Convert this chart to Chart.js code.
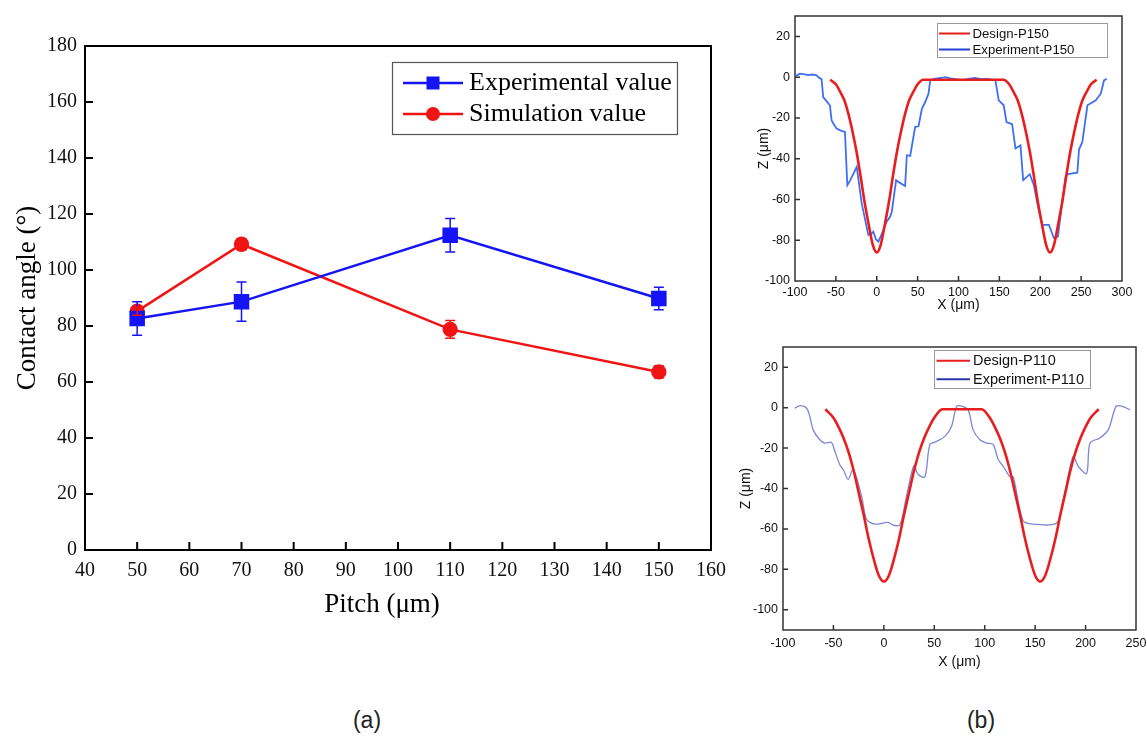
<!DOCTYPE html>
<html><head><meta charset="utf-8">
<script src="https://cdn.jsdelivr.net/npm/chart.js@4.4.1/dist/chart.umd.min.js"></script>
<style>
html,body{margin:0;padding:0;background:#fff;width:1147px;height:736px;overflow:hidden;position:relative;}
canvas{position:absolute;}
.cap{position:absolute;font-family:"Liberation Sans",Arial,sans-serif;font-size:23px;color:#222;transform:translate(-50%,-50%);}
</style></head><body>
<canvas id="ca" width="740" height="640" style="left:0;top:0"></canvas>
<canvas id="cb1" width="407" height="320" style="left:740px;top:0"></canvas>
<canvas id="cb2" width="417" height="350" style="left:730px;top:330px"></canvas>
<div class="cap" style="left:367px;top:720px">(a)</div>
<div class="cap" style="left:981px;top:720px">(b)</div>
<script>
// ---------- (a) contact angle vs pitch ----------
const pitch = [50, 70, 110, 150];
const expValue = [82.7, 88.7, 112.4, 89.8];
const expErr = [6, 7, 6, 4];
const simValue = [85.3, 109.2, 78.8, 63.6];
const simErr = [1.5, 2.0, 3.2, 2.2];
const aXRange = [40, 160];
const aYRange = [0, 180];
const aXTicks = [40, 50, 60, 70, 80, 90, 100, 110, 120, 130, 140, 150, 160];
const aYTicks = [0, 20, 40, 60, 80, 100, 120, 140, 160, 180];

// ---------- (b) top: P150 profiles ----------
const p150DesignX = [-57,-50,-45,-40,-35,-30,-25,-20,-15,-10,-5,0,5,10,15,20,25,30,35,40,45,50,57,100,155,162,167,172,177,182,187,192,197,202,207,212,217,222,227,232,237,242,247,252,257,262,269];
const p150DesignZ = [-1.3,-3.5,-7,-11,-17.5,-26,-36,-48,-61,-72,-82,-86,-82,-72,-61,-48,-36,-26,-17.5,-11,-7,-3.5,-1.3,-1.3,-1.3,-3.5,-7,-11,-17.5,-26,-36,-48,-61,-72,-82,-86,-82,-72,-61,-48,-36,-26,-17.5,-11,-7,-3.5,-1.3];
const p150ExpX = [-99,-94,-88,-84,-79,-74,-70,-67.5,-65.5,-60,-57.3,-55.2,-52,-49.1,-44,-38.9,-36,-33,-24.5,-18.4,-10.3,-7,-4.2,-1,2,5,8.1,12,16.3,18.4,23.7,27,34.7,36.8,40.9,47,51.1,55.2,59.3,63.3,65.4,70,80,84,90,100,105,112,120,128,136,145.2,149.2,155.3,158.7,165.6,169.7,175.8,179.1,187.2,192.2,197,202.4,210.6,216.7,221.6,226,231,233.9,245.4,247.4,251.5,257.7,267.9,274,278,281.4];
const p150ExpZ = [0.5,1.7,1.4,1.0,1.3,1.0,-0.5,-1,-9.8,-12.5,-13.8,-21.2,-23.5,-25.2,-26.2,-26.9,-53,-51,-44,-61.9,-77.4,-77,-75.8,-79.5,-80.7,-78,-75,-71,-68.5,-66,-50.5,-51.5,-53.4,-38.3,-38.6,-24.4,-24.1,-15.5,-12.2,-8.1,-1.6,-0.8,-0.3,0,-0.6,-1.2,-1.5,-0.8,-0.4,-1,-0.8,-1.6,-11.4,-13.8,-22,-23.1,-35,-33.4,-50.5,-47.6,-53,-63,-72.5,-72.5,-79,-78.2,-64,-48.9,-47.6,-46.9,-35.5,-31.8,-13.8,-11.4,-8.1,-1.6,-0.8];
const b1XRange = [-100, 300];
const b1YRange = [-100, 30];
const b1XTicks = [-100, -50, 0, 50, 100, 150, 200, 250, 300];
const b1YTicks = [-100, -80, -60, -40, -20, 0, 20];

// ---------- (b) bottom: P110 profiles ----------
const p110DesignX = [-58,-50,-45,-40,-35,-30,-25,-20,-15,-10,-5,0,5,10,15,20,25,30,35,40,45,50,58,78,97,105,110,115,120,125,130,135,140,145,150,155,160,165,170,175,180,185,190,195,200,205,213];
const p110DesignZ = [-0.8,-5,-9.5,-15,-22,-31,-42,-53,-65,-75,-83,-86,-83,-75,-65,-53,-42,-31,-22,-15,-9.5,-5,-0.8,-0.8,-0.8,-5,-9.5,-15,-22,-31,-42,-53,-65,-75,-83,-86,-83,-75,-65,-53,-42,-31,-22,-15,-9.5,-5,-0.8];
const p110ExpX = [-88.3,-83.3,-76.6,-73.4,-70.1,-63.5,-58.6,-51.9,-48.6,-43.7,-40.3,-35.4,-30.5,-22.1,-17.2,-9,4.2,9.2,15.9,22.5,29.8,34,40.7,45.6,52.3,60.5,67.1,72.1,77.1,83.6,88.5,95.2,101.8,108.4,113.4,118.3,125,128.3,138.1,148.1,171.3,177.9,187.7,192.7,201,204.4,214.2,222.5,230.1,235.7,244];
const p110ExpZ = [-0.3,1.0,-0.3,-4.4,-11,-15.9,-17.5,-17.2,-21.6,-28.2,-30.6,-35.5,-30.6,-43.7,-55.2,-57.6,-56.8,-58.1,-58.1,-43.7,-28.6,-33.1,-34.2,-18.3,-16.7,-14.2,-9.3,0.5,0.8,-1.1,-11,-15.9,-17.5,-18.3,-25.7,-29,-34.2,-34.2,-56,-57.6,-57.1,-45.4,-24.1,-29,-32.6,-17.5,-15,-11,0.5,0.8,-1.1];
const b2XRange = [-100, 250];
const b2YRange = [-110, 30];
const b2XTicks = [-100, -50, 0, 50, 100, 150, 200, 250];
const b2YTicks = [-100, -80, -60, -40, -20, 0, 20];

const pts = (xs, ys) => xs.map((x, i) => ({x, y: ys[i]}));

function framePlugin(color, width, len) {
  return {
    id: 'frame',
    beforeDatasetsDraw(chart) {
      const {ctx, chartArea: a, scales: {x, y}} = chart;
      ctx.save();
      ctx.strokeStyle = color; ctx.lineWidth = width;
      ctx.strokeRect(a.left, a.top, a.right - a.left, a.bottom - a.top);
      ctx.beginPath();
      x.ticks.forEach(t => { const p = x.getPixelForValue(t.value); if (p > a.left + 1 && p < a.right - 1) { ctx.moveTo(p, a.bottom); ctx.lineTo(p, a.bottom - len); } });
      y.ticks.forEach(t => { const p = y.getPixelForValue(t.value); if (p > a.top + 1 && p < a.bottom - 1) { ctx.moveTo(a.left, p); ctx.lineTo(a.left + len, p); } });
      ctx.stroke();
      ctx.restore();
    }
  };
}

function linScale(range, tickList, font, pad, title, tfont, tpad, fitSize, horiz) {
  return {
    type: 'linear', min: range[0], max: range[1],
    grid: {display: false, drawTicks: false},
    border: {display: false},
    ticks: {font, color: '#111', padding: pad, maxRotation: 0, autoSkip: false},
    title: {display: !!title, text: title || '', font: tfont, color: '#111', padding: tpad},
    afterBuildTicks: s => { s.ticks = tickList.map(v => ({value: v})); },
    afterFit: s => {
      if (horiz) { s.height = fitSize; s.paddingLeft = 0; s.paddingRight = 0; }
      else { s.width = fitSize; s.paddingTop = 0; s.paddingBottom = 0; }
    }
  };
}

// ---------------- Chart (a) ----------------
const serif = 'Liberation Serif, Times New Roman, serif';
const errorBars = {
  id: 'errorBars',
  afterDatasetsDraw(chart) {
    const {ctx, scales: {x, y}} = chart;
    ctx.save();
    chart.data.datasets.forEach(ds => {
      ctx.strokeStyle = ds.borderColor; ctx.lineWidth = 1.5;
      ds.data.forEach((p, i) => {
        const e = ds.errors[i];
        const px = x.getPixelForValue(p.x), t = y.getPixelForValue(p.y + e), b = y.getPixelForValue(p.y - e);
        ctx.beginPath();
        ctx.moveTo(px, t); ctx.lineTo(px, b);
        ctx.moveTo(px - 5, t); ctx.lineTo(px + 5, t);
        ctx.moveTo(px - 5, b); ctx.lineTo(px + 5, b);
        ctx.stroke();
      });
    });
    ctx.restore();
  }
};
const legendA = {
  id: 'legendA',
  afterDraw(chart) {
    const ctx = chart.ctx;
    ctx.save();
    ctx.fillStyle = '#fff';
    ctx.fillRect(392, 62, 285, 72);
    ctx.strokeStyle = '#555'; ctx.lineWidth = 1.2;
    ctx.strokeRect(392.5, 62.5, 285, 72);
    const rows = [83, 114];
    chart.data.datasets.forEach((ds, i) => {
      const yy = rows[i];
      ctx.strokeStyle = ds.borderColor; ctx.lineWidth = 2.5;
      ctx.beginPath(); ctx.moveTo(403, yy); ctx.lineTo(463, yy); ctx.stroke();
      ctx.fillStyle = ds.backgroundColor;
      ctx.beginPath();
      if (ds.pointStyle === 'rect') ctx.rect(433 - 6.5, yy - 6.5, 13, 13);
      else ctx.arc(433, yy, 7, 0, Math.PI * 2);
      ctx.fill();
      ctx.fillStyle = '#000';
      ctx.font = '26px ' + serif;
      ctx.textBaseline = 'middle';
      ctx.fillText(ds.label, 469, yy);
    });
    // axis titles
    ctx.font = '27px ' + serif;
    ctx.textAlign = 'center'; ctx.textBaseline = 'middle';
    ctx.fillText('Pitch (μm)', 382, 605);
    ctx.translate(28, 298); ctx.rotate(-Math.PI / 2);
    ctx.fillText('Contact angle (°)', 0, 0);
    ctx.restore();
  }
};
new Chart(document.getElementById('ca'), {
  type: 'scatter',
  data: {datasets: [
    {label: 'Experimental value', data: pts(pitch, expValue), errors: expErr, showLine: true,
     borderColor: '#1414f5', backgroundColor: '#1414f5', borderWidth: 2.5, pointStyle: 'rect', pointRadius: 9.2, pointHoverRadius: 9.2},
    {label: 'Simulation value', data: pts(pitch, simValue), errors: simErr, showLine: true,
     borderColor: '#f01414', backgroundColor: '#f01414', borderWidth: 2.5, pointStyle: 'circle', pointRadius: 6.4, pointHoverRadius: 6.4}
  ]},
  options: {
    responsive: false, animation: false, events: [],
    layout: {padding: {left: 0, right: 29, top: 46, bottom: 0}},
    plugins: {legend: {display: false}, tooltip: {enabled: false}},
    scales: {
      x: linScale(aXRange, aXTicks, {family: serif, size: 20}, 9, null, null, null, 90, true),
      y: linScale(aYRange, aYTicks, {family: serif, size: 20}, 8, null, null, null, 85, false)
    }
  },
  plugins: [framePlugin('#000', 2, 8), errorBars, legendA]
});

// ---------------- Charts (b) ----------------
const sans = 'Liberation Sans, Arial, sans-serif';
function legendB(box, rows, lineX, textX, fontSize, legendColors) {
  return {
    id: 'legendB',
    afterDraw(chart) {
      const ctx = chart.ctx;
      ctx.save();
      ctx.fillStyle = '#fff';
      ctx.fillRect(box[0], box[1], box[2], box[3]);
      ctx.strokeStyle = '#999'; ctx.lineWidth = 1;
      ctx.strokeRect(box[0] + 0.5, box[1] + 0.5, box[2], box[3]);
      chart.data.datasets.forEach((ds, i) => {
        ctx.strokeStyle = legendColors[i]; ctx.lineWidth = 2;
        ctx.beginPath(); ctx.moveTo(lineX[0], rows[i]); ctx.lineTo(lineX[1], rows[i]); ctx.stroke();
        ctx.fillStyle = '#111'; ctx.font = fontSize + 'px ' + sans; ctx.textBaseline = 'middle';
        ctx.fillText(ds.label, textX, rows[i] + 0.5);
      });
      ctx.restore();
    }
  };
}
function profileChart(id, designLabel, dX, dZ, expLabel, eX, eZ, expColor, expWidth, expTension, xr, xt, yr, yt, pad, xFit, yFit, xTitlePad, yTitlePad, xTickPad, legend) {
  return new Chart(document.getElementById(id), {
    type: 'scatter',
    data: {datasets: [
      {label: designLabel, data: pts(dX, dZ), showLine: true, borderColor: '#e81e1e', borderWidth: 2.6,
       pointRadius: 0, cubicInterpolationMode: 'monotone', order: 1},
      {label: expLabel, data: pts(eX, eZ), showLine: true, borderColor: expColor, borderWidth: expWidth,
       pointRadius: 0, tension: expTension, order: 2}
    ]},
    options: {
      responsive: false, animation: false, events: [],
      layout: {padding: pad},
      plugins: {legend: {display: false}, tooltip: {enabled: false}},
      scales: {
        x: linScale(xr, xt, {family: sans, size: 12.5}, xTickPad, 'X (μm)', {family: sans, size: 14}, {top: 0, bottom: xTitlePad}, xFit, true),
        y: linScale(yr, yt, {family: sans, size: 12.5}, 5, 'Z (μm)', {family: sans, size: 14}, {top: yTitlePad, bottom: 0}, yFit, false)
      }
    },
    plugins: [framePlugin('#333', 1.5, 5), legend]
  });
}
profileChart('cb1', 'Design-P150', p150DesignX, p150DesignZ, 'Experiment-P150', p150ExpX, p150ExpZ,
  '#3f6ff5', 1.8, 0, b1XRange, b1XTicks, b1YRange, b1YTicks, {left: 0, right: 25, top: 16, bottom: 0}, 39, 55, 6.6, 15.6, 4,
  legendB([197, 23, 170, 34], [33.5, 49.5], [199, 230], 232.5, 13.2, ['#e81e1e', '#2440d0']));
profileChart('cb2', 'Design-P110', p110DesignX, p110DesignZ, 'Experiment-P110', p110ExpX, p110ExpZ,
  'rgba(80,95,200,0.75)', 1.3, 0.3, b2XRange, b2XTicks, b2YRange, b2YTicks, {left: 0, right: 11, top: 17, bottom: 0}, 50, 53, 9.9, 7.6, 6,
  legendB([204, 20, 156, 38], [30.7, 49.3], [206.5, 240], 243, 14.5, ['#e81e1e', '#2a35a8']));
</script>
</body></html>
